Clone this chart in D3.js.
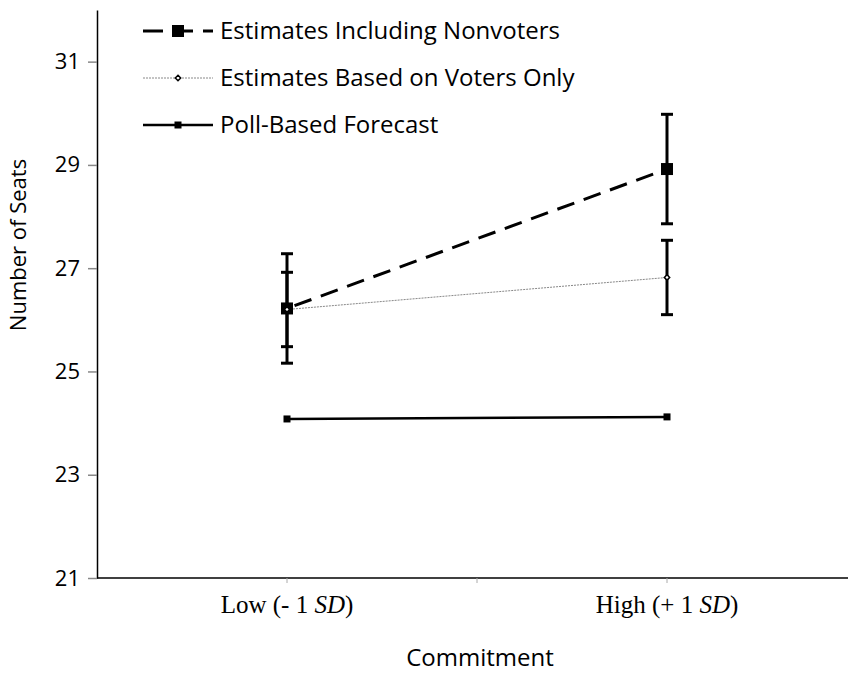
<!doctype html>
<html lang="en">
  <head>
    <title>Number of Seats by Commitment</title>
    <style>
      * {
        margin: 0;
        padding: 0;
      }

      body {
        background-color: #fff;
      }

      text {
        fill: #000;
      }

      .sans {
        font-family: 'Open Sans', 'Lato', sans-serif;
      }

      .serif {
        font-family: 'Liberation Serif', 'DejaVu Serif', serif;
      }
    </style>
  </head>
  <body>
    <div id="chart"></div>

<script src="https://d3js.org/d3.v7.min.js"></script>
<script>

  // values
  var categories = ["Low", "High"];
  var categoryLabels = [["Low (- 1 ", "SD", ")"], ["High (+ 1 ", "SD", ")"]];
  var yTicks = [21, 23, 25, 27, 29, 31];

  var nonvoters      = [26.22, 28.92];
  var nonvotersError = [1.06, 1.06];
  var votersOnly      = [26.20, 26.82];
  var votersOnlyError = [0.72, 0.72];
  var pollForecast   = [24.08, 24.12];

  var seriesNames = ["Estimates Including Nonvoters", "Estimates Based on Voters Only", "Poll-Based Forecast"];

  var width  = 848;
  var height = 676;
  var plotLeft = 97, plotTop = 10, plotBottom = 578, plotRight = 857;

  var svg = d3.select("#chart").append("svg").attr("width", width).attr("height", height);

  var xscale = d3.scalePoint().domain(categories).range([plotLeft, plotRight]).padding(0.5);
  var yscale = d3.scaleLinear().domain([21, 32]).range([plotBottom, plotTop]);

  // y axis
  var yAxis = svg.append("g")
    .attr("transform", "translate(" + plotLeft + ",0)")
    .call(d3.axisLeft(yscale).tickValues(yTicks).tickSize(9).tickSizeOuter(0).tickPadding(8));
  yAxis.select(".domain").attr("stroke", "#000").attr("stroke-width", 1.5);
  yAxis.selectAll(".tick line").attr("stroke", "#888").attr("stroke-width", 1.5);
  yAxis.selectAll(".tick text")
    .attr("class", "sans").style("font-size", "22px").attr("fill", "#000");

  // x axis line and ticks
  svg.append("line")
    .attr("x1", plotLeft).attr("x2", width)
    .attr("y1", plotBottom).attr("y2", plotBottom)
    .attr("stroke", "#000").attr("stroke-width", 1.5);

  var step = xscale.step();
  var xTickPos = [xscale("Low"), xscale("Low") + step / 2, xscale("High")];
  svg.selectAll(".xtick").data(xTickPos).enter().append("line")
    .attr("x1", d => d).attr("x2", d => d)
    .attr("y1", plotBottom).attr("y2", plotBottom + 5)
    .attr("stroke", "#aaa").attr("stroke-width", 1);

  var catText = svg.selectAll(".cat").data(categories).enter().append("text")
    .attr("class", "serif")
    .attr("x", d => xscale(d))
    .attr("y", 613)
    .attr("text-anchor", "middle")
    .style("font-size", "25px");
  catText.each(function(d, i) {
    var t = d3.select(this);
    t.append("tspan").text(categoryLabels[i][0]);
    t.append("tspan").style("font-style", "italic").text(categoryLabels[i][1]);
    t.append("tspan").text(categoryLabels[i][2]);
  });

  // axis titles
  svg.append("text").attr("class", "sans")
    .attr("x", 480).attr("y", 666)
    .attr("text-anchor", "middle")
    .style("font-size", "24px")
    .text("Commitment");

  svg.append("text").attr("class", "sans")
    .attr("transform", "translate(26,245) rotate(-90)")
    .attr("text-anchor", "middle")
    .style("font-size", "22px")
    .text("Number of Seats");

  var line = d3.line().x((d, i) => xscale(categories[i])).y(d => yscale(d));

  // error bars
  function errorBars(values, errors) {
    var g = svg.append("g");
    values.forEach(function(v, i) {
      var cx = xscale(categories[i]);
      g.append("line")
        .attr("x1", cx).attr("x2", cx)
        .attr("y1", yscale(v - errors[i])).attr("y2", yscale(v + errors[i]))
        .attr("stroke", "#000").attr("stroke-width", 3);
      [v - errors[i], v + errors[i]].forEach(function(e) {
        g.append("line")
          .attr("x1", cx - 6).attr("x2", cx + 6)
          .attr("y1", yscale(e)).attr("y2", yscale(e))
          .attr("stroke", "#000").attr("stroke-width", 3);
      });
    });
  }
  errorBars(nonvoters, nonvotersError);
  errorBars(votersOnly, votersOnlyError);

  // lines
  svg.append("path").attr("d", line(pollForecast))
    .attr("fill", "none").attr("stroke", "#000").attr("stroke-width", 2.5);
  svg.append("path").attr("d", line(votersOnly))
    .attr("fill", "none").attr("stroke", "#888").attr("stroke-width", 1).attr("stroke-dasharray", "2,1");
  svg.append("path").attr("d", line(nonvoters))
    .attr("fill", "none").attr("stroke", "#000").attr("stroke-width", 3).attr("stroke-dasharray", "18,10")
    .attr("stroke-dashoffset", -8);

  // markers
  function squares(values, size) {
    svg.append("g").selectAll("rect").data(values).enter().append("rect")
      .attr("x", (d, i) => xscale(categories[i]) - size / 2)
      .attr("y", d => yscale(d) - size / 2)
      .attr("width", size).attr("height", size)
      .attr("fill", "#000");
  }
  function diamonds(values) {
    svg.append("g").selectAll("path").data(values).enter().append("path")
      .attr("transform", (d, i) => "translate(" + xscale(categories[i]) + "," + yscale(d) + ")")
      .attr("d", d3.symbol(d3.symbolDiamond2, 18)())
      .attr("fill", "#fff").attr("stroke", "#000").attr("stroke-width", 1.5);
  }
  squares(nonvoters, 12);
  diamonds(votersOnly);
  squares(pollForecast, 7);

  // legend
  var legendRows = [31, 78, 125];
  var lx1 = 143, lx2 = 213, lmid = 178;
  var legend = svg.append("g");

  legend.append("line").attr("x1", lx1).attr("x2", lx2).attr("y1", legendRows[0]).attr("y2", legendRows[0])
    .attr("stroke", "#000").attr("stroke-width", 3).attr("stroke-dasharray", "20,10");
  legend.append("rect").attr("x", lmid - 6).attr("y", legendRows[0] - 6).attr("width", 12).attr("height", 12).attr("fill", "#000");

  legend.append("line").attr("x1", lx1).attr("x2", lx2).attr("y1", legendRows[1]).attr("y2", legendRows[1])
    .attr("stroke", "#888").attr("stroke-width", 1).attr("stroke-dasharray", "2,1");
  legend.append("path").attr("transform", "translate(" + lmid + "," + legendRows[1] + ")")
    .attr("d", d3.symbol(d3.symbolDiamond2, 18)())
    .attr("fill", "#fff").attr("stroke", "#000").attr("stroke-width", 1.5);

  legend.append("line").attr("x1", lx1).attr("x2", lx2).attr("y1", legendRows[2]).attr("y2", legendRows[2])
    .attr("stroke", "#000").attr("stroke-width", 2.5);
  legend.append("rect").attr("x", lmid - 3.5).attr("y", legendRows[2] - 3.5).attr("width", 7).attr("height", 7).attr("fill", "#000");

  legend.selectAll("text").data(seriesNames).enter().append("text")
    .attr("class", "sans")
    .attr("x", 220)
    .attr("y", (d, i) => legendRows[i])
    .attr("dy", "0.35em")
    .style("font-size", "24px")
    .text(d => d);

</script>
  </body>
</html>
